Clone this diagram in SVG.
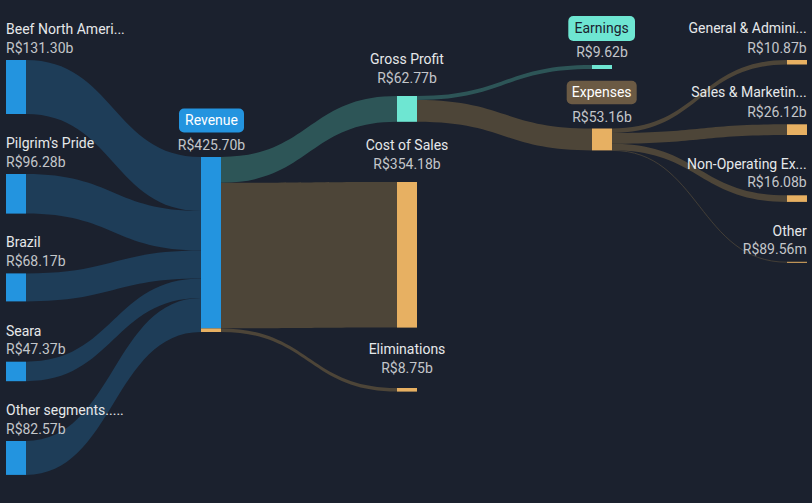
<svg xmlns="http://www.w3.org/2000/svg" width="812" height="503" viewBox="0 0 812 503">
<style>
text{font-family:Roboto,"Liberation Sans",sans-serif;font-size:14px}
.n{fill:#e6e8ea}
.v{fill:#c3c6ca}
.e{text-anchor:end}
.m{text-anchor:middle}
.lb{fill:#1e3d58}
.lt{fill:#2d5557}
.lr{fill:#4d4538}
.nb{fill:#2394df}
.no{fill:#e7b062}
.nt{fill:#6ee6d2}
</style>
<rect width="812" height="503" fill="#1b212e"/>
<g id="links">
<path class="lb" d="M26,60 C113.5,60 113.5,157 201,157 L201,211 C113.5,211 113.5,114 26,114 Z"/>
<path class="lb" d="M26,174 C113.5,174 113.5,211 201,211 L201,250.6 C113.5,250.6 113.5,213.6 26,213.6 Z"/>
<path class="lb" d="M26,273.4 C113.5,273.4 113.5,250.6 201,250.6 L201,278.6 C113.5,278.6 113.5,301.4 26,301.4 Z"/>
<path class="lb" d="M26,361.7 C113.5,361.7 113.5,278.6 201,278.6 L201,298.1 C113.5,298.1 113.5,381.2 26,381.2 Z"/>
<path class="lb" d="M26,441 C113.5,441 113.5,298.1 201,298.1 L201,332 C113.5,332 113.5,474.9 26,474.9 Z"/>
<path class="lt" d="M221,157 C309,157 309,96 397,96 L397,121.8 C309,121.8 309,182.8 221,182.8 Z"/>
<path class="lr" d="M221,182.8 C309,182.8 309,182 397,182 L397,327.6 C309,327.6 309,328.4 221,328.4 Z"/>
<path class="lr" d="M221,328.4 C309,328.4 309,388 397,388 L397,391.6 C309,391.6 309,332 221,332 Z"/>
<path class="lt" d="M417,96 C504.5,96 504.5,65 592,65 L592,69 C504.5,69 504.5,100 417,100 Z"/>
<path class="lr" d="M417,100 C504.5,100 504.5,128.5 592,128.5 L592,150.4 C504.5,150.4 504.5,121.8 417,121.8 Z"/>
<path class="lr" d="M612,128.5 C699.5,128.5 699.5,60 787,60 L787,64.5 C699.5,64.5 699.5,133 612,133 Z"/>
<path class="lr" d="M612,133 C699.5,133 699.5,124.3 787,124.3 L787,135 C699.5,135 699.5,143.7 612,143.7 Z"/>
<path class="lr" d="M612,143.7 C699.5,143.7 699.5,195.3 787,195.3 L787,201.9 C699.5,201.9 699.5,150.3 612,150.3 Z"/>
<path d="M612,150.4 C699.5,150.4 699.5,262.2 787,262.2" fill="none" stroke="#4d4538" stroke-width="0.8"/>
</g>
<g id="beef"><rect class="nb" x="6" y="60" width="20" height="54"/><text class="n" x="6" y="34">Beef North Ameri...</text><text class="v" x="6" y="52.5">R$131.30b</text></g>
<g id="pilgrims"><rect class="nb" x="6" y="174" width="20" height="39.6"/><text class="n" x="6" y="148">Pilgrim's Pride</text><text class="v" x="6" y="166.5">R$96.28b</text></g>
<g id="brazil"><rect class="nb" x="6" y="273.4" width="20" height="28"/><text class="n" x="6" y="247.4">Brazil</text><text class="v" x="6" y="265.9">R$68.17b</text></g>
<g id="seara"><rect class="nb" x="6" y="361.7" width="20" height="19.5"/><text class="n" x="6" y="335.7">Seara</text><text class="v" x="6" y="354.2">R$47.37b</text></g>
<g id="other-segments"><rect class="nb" x="6" y="441" width="20" height="33.9"/><text class="n" x="6" y="415">Other segments.....</text><text class="v" x="6" y="433.5">R$82.57b</text></g>
<g id="revenue"><rect class="nb" x="201" y="157" width="20" height="171.4"/><rect class="no" x="201" y="328.4" width="20" height="3.6"/><rect x="179" y="108.5" width="65" height="24" rx="5" fill="#2394df"/><text x="211.5" y="125" class="m" fill="#ffffff">Revenue</text><text class="v m" x="211.5" y="149.7">R$425.70b</text></g>
<g id="gross-profit"><rect class="nt" x="397" y="96" width="20" height="25.8"/><text class="n m" x="407" y="64">Gross Profit</text><text class="v m" x="407" y="83.3">R$62.77b</text></g>
<g id="cost-of-sales"><rect class="no" x="397" y="182" width="20" height="145.6"/><text class="n m" x="407" y="150">Cost of Sales</text><text class="v m" x="407" y="169">R$354.18b</text></g>
<g id="eliminations"><rect class="no" x="397" y="388" width="20" height="3.6"/><text class="n m" x="407" y="354.3">Eliminations</text><text class="v m" x="407" y="373.3">R$8.75b</text></g>
<g id="earnings"><rect class="nt" x="592" y="65" width="20" height="4"/><rect x="568.3" y="16" width="66.7" height="25" rx="5" fill="#6ee6d2"/><text x="601.7" y="33" class="m" fill="#1b212e">Earnings</text><text class="v m" x="602" y="57.3">R$9.62b</text></g>
<g id="expenses"><rect class="no" x="592" y="128.5" width="20" height="21.9"/><rect x="566.7" y="80.7" width="70" height="23.6" rx="5" fill="#6b5a44"/><text x="601.7" y="97" class="m" fill="#ffffff">Expenses</text><text class="v m" x="602" y="121.7">R$53.16b</text></g>
<g id="general-admin"><rect class="no" x="787" y="60" width="20" height="4.5"/><text class="n e" x="806.7" y="33.3">General &amp; Admini...</text><text class="v e" x="806.7" y="52.7">R$10.87b</text></g>
<g id="sales-marketing"><rect class="no" x="787" y="124.3" width="20" height="10.7"/><text class="n e" x="806.7" y="97.3">Sales &amp; Marketin...</text><text class="v e" x="806.7" y="116.7">R$26.12b</text></g>
<g id="non-operating"><rect class="no" x="787" y="195.3" width="20" height="6.6"/><text class="n e" x="806.7" y="169.3">Non-Operating Ex...</text><text class="v e" x="806.7" y="187.3">R$16.08b</text></g>
<g id="other"><rect class="no" x="787" y="261.8" width="20" height="1"/><text class="n e" x="806.7" y="235.7">Other</text><text class="v e" x="806.7" y="254.3">R$89.56m</text></g>
</svg>
